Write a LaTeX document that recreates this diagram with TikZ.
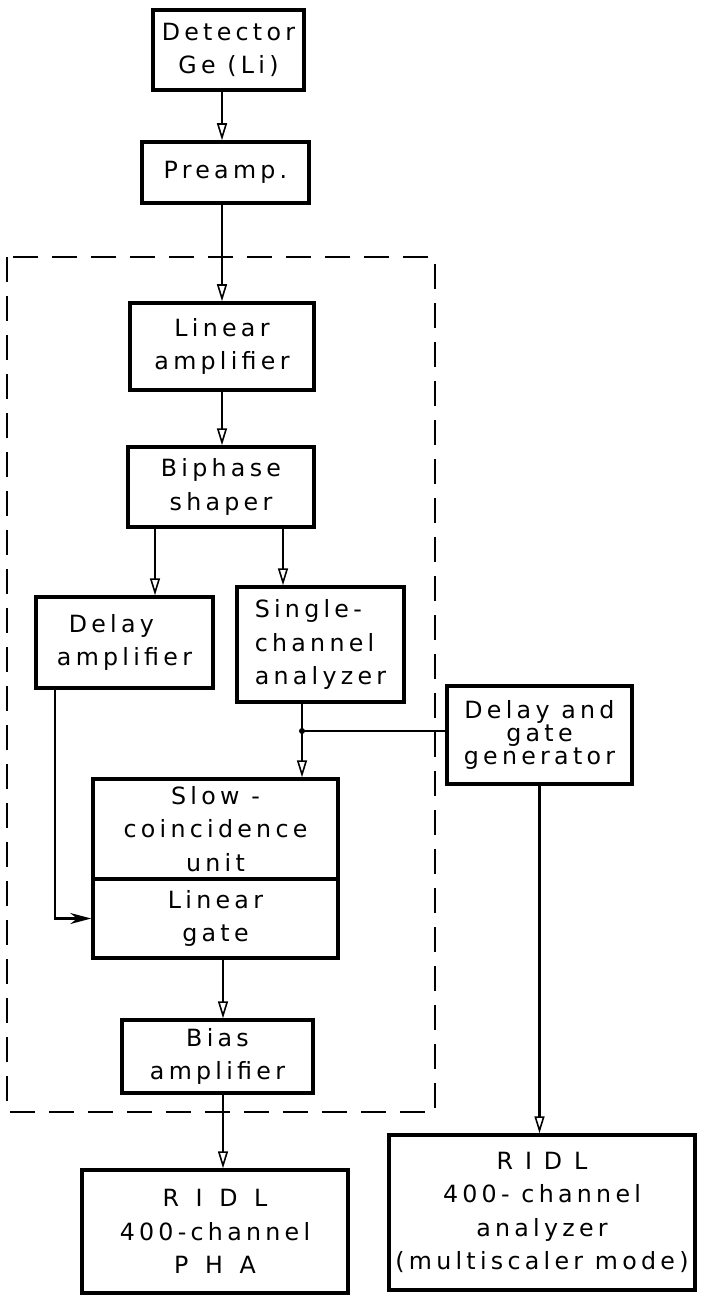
\documentclass[tikz,border=0pt]{standalone}
\usepackage{fontspec}
\setmainfont[LetterSpace=18]{DejaVu Sans}
\usetikzlibrary{arrows.meta, positioning, calc}
\tikzset{
  stage/.style  = {rectangle, draw, line width=2pt, align=center, inner sep=2pt, font=\fontsize{13.5}{19}\selectfont},
  sig/.style    = {-{Triangle[open, length=0.34cm, width=0.2cm, line width=0.9pt]}, line width=1.2pt},
  feed/.style   = {-{Stealth[length=0.42cm, width=0.22cm]}, line width=1.2pt},
  wire/.style   = {line width=1.2pt},
  groupbox/.style = {draw, dash pattern=on 0.5cm off 0.28cm, line width=1.4pt},
}
\begin{document}
\begin{tikzpicture}
\useasboundingbox (0,0) rectangle (14.04,-26);

% ================= input chain =================
\node (det)    [stage, minimum width=3.02cm, minimum height=1.60cm] at (4.57, -1.00)  {Detector\\Ge (Li)};
\node (pre)    [stage, minimum width=3.34cm, minimum height=1.22cm] at (4.51, -3.45)  {Preamp.};

% ================= processing (dashed group) =================
\draw [groupbox] (0.14,-5.14) rectangle (8.70,-22.24);
\node (linamp) [stage, minimum width=3.68cm, minimum height=1.74cm] at (4.44, -6.93)  {Linear\\amplifier};
\node (biph)   [stage, minimum width=3.72cm, minimum height=1.60cm] at (4.42, -9.74)  {Biphase\\shaper};
\node (delamp) [stage, align=left, minimum width=3.54cm, minimum height=1.82cm] at (2.49, -12.85) {\ Delay\\amplifier};
\node (sca)    [stage, align=left, minimum width=3.34cm, minimum height=2.30cm] at (6.41, -12.89) {Single-\\channel\\analyzer};
\node (slow)   [stage, minimum width=4.90cm, minimum height=2.00cm] at (4.31, -16.58) {Slow -\\coincidence\\unit};
\node (lgate)  [stage, minimum width=4.90cm, minimum height=1.58cm, below=-2pt of slow] {Linear\\gate};
\node (bias)   [stage, minimum width=3.82cm, minimum height=1.46cm] at (4.35, -21.13) {Bias\\amplifier};

% ================= side branch and outputs =================
\node (dgg)    [stage, minimum width=3.70cm, minimum height=1.96cm, font=\fontsize{13.5}{13}\selectfont] at (10.79, -14.70) {Delay and\\gate\\generator};
\node (pha)    [stage, minimum width=5.32cm, minimum height=2.46cm] at (4.30, -24.63) {{\addfontfeature{LetterSpace=70}RIDL}\\400-channel\\{\addfontfeature{LetterSpace=70}PHA}};
\node (msa)    [stage, minimum width=6.12cm, minimum height=3.10cm] at (10.84, -24.25) {{\addfontfeature{LetterSpace=50}RIDL}\\400- channel\\analyzer\\(multiscaler mode)};

\coordinate (jct) at (6.04, -14.62);

% ================= signal flow =================
\draw [sig] (det.south -| linamp.north) -- (pre.north -| linamp.north);
\draw [sig] (pre.south -| linamp.north) -- (linamp.north);
\draw [sig] (linamp.south) -- (biph.north -| linamp.south);
\draw [sig] ([xshift=-1.32cm]biph.south) -- ([xshift=-1.32cm]biph.south |- delamp.north);
\draw [sig] ([xshift=1.24cm]biph.south) -- ([xshift=1.24cm]biph.south |- sca.north);

% SCA -> coincidence and gate generator
\draw [wire] (sca.south -| jct) -- (jct);
\draw [sig] (jct) -- (jct |- slow.north);
\draw [wire] (jct) -- (jct -| dgg.west);
\fill (jct) circle (0.06cm);

% delayed signal into the linear gate
\draw [feed] ([xshift=-1.39cm]delamp.south) |- (lgate.west);

\draw [sig] ([xshift=0.11cm]lgate.south -| bias.north) -- ([xshift=0.11cm]bias.north);
\draw [sig] ([xshift=0.11cm]bias.south) -- ([xshift=0.11cm]pha.north -| bias.south);
\draw [sig] (dgg.south) -- (msa.north -| dgg.south);

\end{tikzpicture}
\end{document}
